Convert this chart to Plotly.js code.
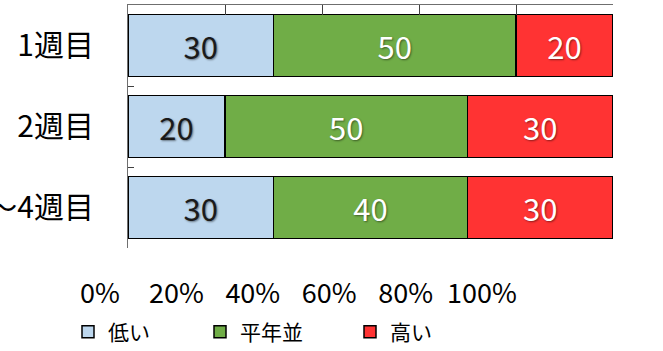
<!DOCTYPE html>
<html>
<head>
<meta charset="utf-8">
<script src="https://cdn.plot.ly/plotly-3.0.1.min.js"></script>
<style>html,body{margin:0;padding:0;background:#fff;}#chart{width:663px;height:351px;}</style>
</head>
<body>
<div id="chart"></div>
<script>
const categories = ['1週目', '2週目', '3～4週目'];
const seriesNames = ['低い', '平年並', '高い'];
const lowValues = [30, 20, 30];
const normalValues = [50, 50, 40];
const highValues = [20, 30, 30];
const xTickVals = [0, 20, 40, 60, 80, 100];
const xTickText = ['0%', '20%', '40%', '60%', '80%', '100%'];

const FONT = '"Noto Sans CJK JP", "Noto Sans", sans-serif';
const colors = ['#bdd7ee', '#70ad47', '#ff3333'];
const textColors = ['#1a1a1a', '#ffffff', '#ffffff'];
const allValues = [lowValues, normalValues, highValues];
const legendIds = ['legend', 'legend2', 'legend3'];
const legendX = [68, 200, 350];

const traces = allValues.map((vals, i) => ({
  type: 'bar',
  orientation: 'h',
  name: seriesNames[i],
  legend: legendIds[i],
  y: categories,
  x: vals,
  xaxis: 'x',
  yaxis: 'y',
  marker: {color: colors[i], line: {color: '#000000', width: 1.5}},
  text: vals.map(String),
  textposition: 'inside',
  insidetextanchor: 'middle',
  constraintext: 'none',
  textfont: {family: FONT, size: 31, color: textColors[i], shadow: '1px 1px 2px rgba(0,0,0,0.45)'},
  hoverinfo: 'skip'
}));

// empty trace to host the label axis
traces.push({type: 'scatter', x: [], y: [], xaxis: 'x2', yaxis: 'y', showlegend: false, hoverinfo: 'skip'});

const layout = {
  width: 663,
  height: 351,
  margin: {l: 100, r: 50, t: 5, b: 81},
  paper_bgcolor: '#ffffff',
  plot_bgcolor: 'rgba(0,0,0,0)',
  font: {family: FONT, size: 22, color: '#000000'},
  barmode: 'stack',
  bargap: 0.24,
  showlegend: true,
  xaxis: {
    domain: [28 / 513, 1],
    range: [0, 100],
    side: 'top',
    anchor: 'y',
    showline: true,
    linecolor: '#6f6f6f',
    linewidth: 1,
    ticks: 'inside',
    ticklen: 10,
    tickcolor: '#404040',
    tickvals: xTickVals,
    showticklabels: false,
    showgrid: false,
    zeroline: false,
    fixedrange: true
  },
  xaxis2: {
    domain: [0, 382 / 513],
    range: [0, 100],
    anchor: 'free',
    position: 0,
    tickvals: xTickVals,
    ticktext: xTickText,
    ticks: '',
    ticklabelstandoff: 5,
    showline: false,
    showgrid: false,
    zeroline: false,
    tickfont: {family: FONT, size: 27, color: '#000000'},
    fixedrange: true
  },
  yaxis: {
    domain: [22 / 265, 1],
    anchor: 'x',
    type: 'category',
    autorange: 'reversed',
    showline: true,
    linecolor: '#6f6f6f',
    linewidth: 1,
    ticks: 'inside',
    tickson: 'boundaries',
    ticklen: 6,
    tickcolor: '#404040',
    ticklabelstandoff: 27,
    showgrid: false,
    zeroline: false,
    tickfont: {family: FONT, size: 30, color: '#000000'},
    fixedrange: true
  }
};

legendIds.forEach((id, i) => {
  layout[id] = {
    orientation: 'h',
    xref: 'container',
    yref: 'container',
    x: legendX[i] / 663,
    y: 19 / 351,
    xanchor: 'left',
    yanchor: 'middle',
    font: {family: FONT, size: 21, color: '#000000'},
    bgcolor: 'rgba(0,0,0,0)'
  };
});

Plotly.newPlot('chart', traces, layout, {displayModeBar: false, staticPlot: true});
</script>
</body>
</html>
